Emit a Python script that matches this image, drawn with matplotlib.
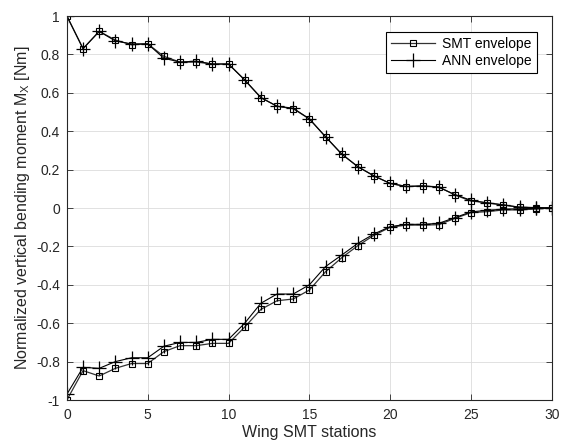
import matplotlib
matplotlib.use('Agg')
import matplotlib.pyplot as plt
import numpy as np

# stations along the wing
stations = np.arange(0, 31)

# upper / lower envelopes, SMT model
smt_upper = [1.0, 0.83, 0.92, 0.875, 0.85, 0.855, 0.79, 0.76, 0.76, 0.75, 0.75,
             0.667, 0.575, 0.53, 0.517, 0.464, 0.371, 0.281, 0.215, 0.167, 0.128,
             0.111, 0.115, 0.11, 0.068, 0.036, 0.028, 0.016, 0.004, 0.002, 0.0]
smt_lower = [-1.0, -0.847, -0.875, -0.835, -0.81, -0.81, -0.748, -0.717, -0.717, -0.705, -0.705,
             -0.62, -0.528, -0.483, -0.474, -0.427, -0.332, -0.259, -0.196, -0.142, -0.10,
             -0.089, -0.089, -0.087, -0.054, -0.024, -0.019, -0.01, -0.01, -0.005, 0.0]

# upper / lower envelopes, ANN prediction
ann_upper = [1.0, 0.83, 0.92, 0.87, 0.855, 0.855, 0.78, 0.76, 0.765, 0.75, 0.75,
             0.667, 0.575, 0.53, 0.52, 0.464, 0.371, 0.281, 0.215, 0.167, 0.128,
             0.113, 0.115, 0.108, 0.07, 0.04, 0.026, 0.016, 0.004, 0.002, 0.0]
ann_lower = [-0.97, -0.83, -0.835, -0.80, -0.78, -0.78, -0.72, -0.70, -0.70, -0.684, -0.684,
             -0.60, -0.496, -0.448, -0.448, -0.40, -0.305, -0.245, -0.184, -0.135, -0.097,
             -0.085, -0.085, -0.08, -0.05, -0.02, -0.012, -0.006, -0.004, -0.002, 0.0]

plt.rcParams['font.family'] = ['Liberation Sans', 'DejaVu Sans']
plt.rcParams['axes.unicode_minus'] = False

txtcol = '#262626'

fig = plt.figure(figsize=(5.62, 4.4), dpi=100)
ax = fig.add_axes([0.119, 0.0909, 0.863, 0.8727])

# SMT
l1, = ax.plot(stations, smt_upper, '-s', color='#333333', linewidth=0.9,
              markersize=5, markerfacecolor='none', markeredgecolor='black',
              markeredgewidth=0.8, label='SMT envelope')
ax.plot(stations, smt_lower, '-s', color='#333333', linewidth=0.9,
        markersize=5, markerfacecolor='none', markeredgecolor='black',
        markeredgewidth=0.8)
# ANN
l2, = ax.plot(stations, ann_upper, '-+', color='black', linewidth=0.8,
              markersize=10, markeredgewidth=0.9, label='ANN envelope')
ax.plot(stations, ann_lower, '-+', color='black', linewidth=0.8,
        markersize=10, markeredgewidth=0.9)

ax.set_xlim(0, 30)
ax.set_ylim(-1, 1)
ax.set_xticks(np.arange(0, 31, 5))
yt = np.round(np.arange(-1, 1.01, 0.2), 1) + 0.0
ax.set_yticks(yt)
ax.set_yticklabels(['%g' % (0 if abs(v) < 1e-9 else v) for v in yt])

ax.grid(True, color='#dcdcdc', linewidth=0.6)
ax.set_axisbelow(True)
ax.tick_params(direction='in', top=True, right=True, length=4, width=0.6,
               colors=txtcol, labelsize=10, labelcolor=txtcol)
ax.tick_params(axis='x', pad=6)
ax.tick_params(axis='y', pad=5)
for s in ax.spines.values():
    s.set_color('#262626')
    s.set_linewidth(0.8)

ax.set_xlabel('Wing SMT stations', fontsize=11.5, color=txtcol, labelpad=2)
ax.set_ylabel('Normalized vertical bending moment M$_\\mathregular{X}$ [Nm]',
              fontsize=11.5, color=txtcol, labelpad=3)

leg = ax.legend(handles=[l1, l2], loc='upper right', bbox_to_anchor=(0.969, 0.958),
                borderaxespad=0, fontsize=10, handlelength=3.2, fancybox=False,
                framealpha=1, edgecolor='black', borderpad=0.35, labelspacing=0.2,
                handletextpad=0.5)
leg.get_frame().set_linewidth(0.8)

plt.savefig('out.png', dpi=100)
